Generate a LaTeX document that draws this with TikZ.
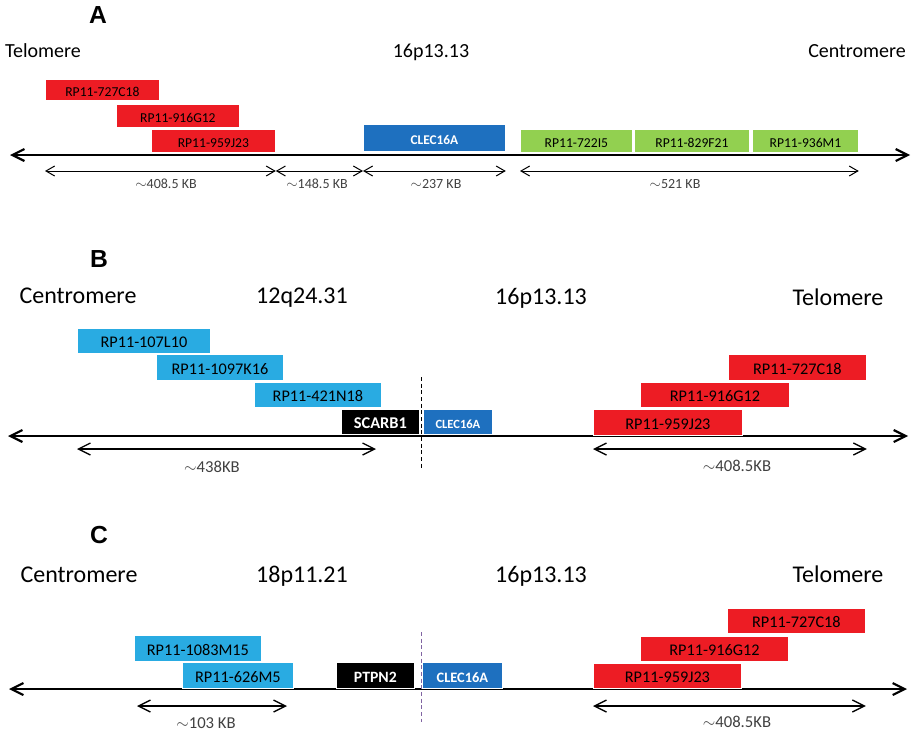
\documentclass[tikz,border=0pt]{standalone}
\usepackage{fontspec}
\setmainfont{Carlito}
\newfontfamily\panelfont{Liberation Sans}
\usepackage{xcolor}
\usepackage{tikz}
\usetikzlibrary{arrows.meta}

\definecolor{bacred}{HTML}{ED1C24}
\definecolor{bacgreen}{HTML}{92D050}
\definecolor{baccyan}{HTML}{29ABE2}
\definecolor{genblue}{HTML}{1E70BF}
\definecolor{cutviolet}{HTML}{8064A2}

\tikzset{
  clone/.style={inner sep=0pt, draw=white, line width=0.6pt,
    text height=1.05em, text depth=0pt},
  gene/.style={clone, text=white, font=\bfseries},
  panel/.style={anchor=base, inner sep=0pt,
    font=\panelfont\bfseries\fontsize{18.5}{22}\selectfont},
  title/.style={anchor=base, inner sep=0pt},
  titleA/.style={title, font=\fontsize{15}{18}\selectfont},
  titleB/.style={title, font=\fontsize{18}{21}\selectfont},
  kb/.style={anchor=base, inner sep=0pt, text=black!75},
  chrom/.style={line width=1.6pt,
    {Straight Barb[length=9pt,width=9pt]}-{Straight Barb[length=9pt,width=9pt]}},
  spanA/.style={line width=0.75pt,
    {Straight Barb[length=6.5pt,width=7.5pt]}-{Straight Barb[length=6.5pt,width=7.5pt]}},
  spanB/.style={line width=1pt,
    {Straight Barb[length=9pt,width=9pt]}-{Straight Barb[length=9pt,width=9pt]}},
  cut/.style={line width=0.75pt, dash pattern=on 3pt off 2pt}
}

% [options]{name}{x1}{y1}{x2}{y2}{text}, pixel coordinates
\newcommand{\bacbox}[7][]{%
  \node[clone, anchor=north west,
    minimum width={(#5-#3)*0.75pt}, minimum height={(#6-#4)*0.75pt}, #1]
    (#2) at (#3,#4) {#7};}

\begin{document}
\begin{tikzpicture}[x=0.75pt,y=-0.75pt]
  \useasboundingbox (0,0) rectangle (912,735);

  % ---- A ----
  \node[panel] (pA) at (98,24) {A};
  \node[titleA] (aTel) at (43,58) {Telomere};
  \node[titleA] (aLoc) at (431,57) {16p13.13};
  \node[titleA] (aCen) at (857,58) {Centromere};

  \coordinate (aAxL) at (10,155);
  \coordinate (aAxR) at (910,155);
  \draw[chrom] (aAxL) -- (aAxR);

  \bacbox[fill=bacred, font=\fontsize{10.2}{12}\selectfont]{aR1}{45}{79}{159}{100}{RP11-727C18}
  \bacbox[fill=bacred, font=\fontsize{10.2}{12}\selectfont]{aR2}{116}{104}{239}{127}{RP11-916G12}
  \bacbox[fill=bacred, font=\fontsize{10.2}{12}\selectfont]{aR3}{151}{129}{275}{152}{RP11-959J23}
  \bacbox[gene, fill=genblue, font=\bfseries\fontsize{10}{12}\selectfont]{aClec}{363}{124}{505}{151}{CLEC16A}
  \bacbox[fill=bacgreen, font=\fontsize{10.2}{12}\selectfont]{aG1}{520}{129}{632}{152}{RP11-722I5}
  \bacbox[fill=bacgreen, font=\fontsize{10.2}{12}\selectfont]{aG2}{634}{129}{749}{152}{RP11-829F21}
  \bacbox[fill=bacgreen, font=\fontsize{10.2}{12}\selectfont]{aG3}{752}{129}{858}{152}{RP11-936M1}

  \coordinate (aSpan) at (0,171);
  \draw[spanA] (aR1.west |- aSpan) -- (aR3.east |- aSpan);
  \draw[spanA] (aR3.east |- aSpan) -- (aClec.west |- aSpan);
  \draw[spanA] (aClec.west |- aSpan) -- (aClec.east |- aSpan);
  \draw[spanA] (aG1.west |- aSpan) -- (aG3.east |- aSpan);
  \node[kb, font=\fontsize{10.5}{12}\selectfont] (aK1) at (166,188) {$\sim$408.5 KB};
  \node[kb, font=\fontsize{10.5}{12}\selectfont] (aK2) at (317,188) {$\sim$148.5 KB};
  \node[kb, font=\fontsize{10.5}{12}\selectfont] (aK3) at (436,188) {$\sim$237 KB};
  \node[kb, font=\fontsize{10.5}{12}\selectfont] (aK4) at (675,188) {$\sim$521 KB};

  % ---- B ----
  \node[panel] (pB) at (99,267) {B};
  \node[titleB] (bCen) at (78,303) {Centromere};
  \node[titleB] (bLoc1) at (302,303) {12q24.31};
  \node[titleB] (bLoc2) at (541,304) {16p13.13};
  \node[titleB] (bTel) at (838,305) {Telomere};

  \coordinate (bAxL) at (8,436);
  \coordinate (bAxR) at (908,436);
  \draw[chrom] (bAxL) -- (bAxR);

  \bacbox[fill=baccyan, font=\fontsize{12.2}{14}\selectfont]{bC1}{77}{328}{210}{353}{RP11-107L10}
  \bacbox[fill=baccyan, font=\fontsize{12.2}{14}\selectfont]{bC2}{156}{354}{283}{380}{RP11-1097K16}
  \bacbox[fill=baccyan, font=\fontsize{12.2}{14}\selectfont]{bC3}{254}{382}{381}{407}{RP11-421N18}
  \bacbox[gene, fill=black, font=\bfseries\fontsize{12.3}{14}\selectfont]{bScarb}{341}{409}{419}{434}{SCARB1}
  \bacbox[gene, fill=genblue, font=\bfseries\fontsize{9.4}{11}\selectfont]{bClec}{423}{409}{492}{434}{CLEC16A}
  \bacbox[fill=bacred, font=\fontsize{12.2}{14}\selectfont]{bR1}{728}{354}{866}{380}{RP11-727C18}
  \bacbox[fill=bacred, font=\fontsize{12.2}{14}\selectfont]{bR2}{640}{382}{789}{407}{RP11-916G12}
  \bacbox[fill=bacred, font=\fontsize{12.2}{14}\selectfont]{bR3}{593}{409}{742}{435}{RP11-959J23}

  \coordinate (bCutT) at (421,377);
  \coordinate (bCutB) at (421,469);
  \draw[cut] (bCutT) -- (bCutB);

  \coordinate (bSpan) at (0,449);
  \coordinate (bSpanE) at (376,449);
  \draw[spanB] (bC1.west |- bSpan) -- (bSpanE);
  \draw[spanB] (bR3.west |- bSpan) -- (bR1.east |- bSpan);
  \node[kb, font=\fontsize{12.5}{15}\selectfont] (bK1) at (212,472) {$\sim$438KB};
  \node[kb, font=\fontsize{12.5}{15}\selectfont] (bK2) at (737,471) {$\sim$408.5KB};

  % ---- C ----
  \node[panel] (pC) at (99,543) {C};
  \node[titleB] (cCen) at (79,582) {Centromere};
  \node[titleB] (cLoc1) at (302,582) {18p11.21};
  \node[titleB] (cLoc2) at (541,582) {16p13.13};
  \node[titleB] (cTel) at (838,582) {Telomere};

  \coordinate (cAxL) at (9,689);
  \coordinate (cAxR) at (907,689);
  \draw[chrom] (cAxL) -- (cAxR);

  \bacbox[fill=baccyan, font=\fontsize{12.2}{14}\selectfont]{cC1}{134}{635}{261}{661}{RP11-1083M15}
  \bacbox[fill=baccyan, font=\fontsize{12.2}{14}\selectfont]{cC2}{182}{662}{293}{688}{RP11-626M5}
  \bacbox[gene, fill=black, font=\bfseries\fontsize{11.8}{14}\selectfont]{cPtpn}{336}{662}{414}{688}{PTPN2}
  \bacbox[gene, fill=genblue, font=\bfseries\fontsize{10.8}{13}\selectfont]{cClec}{422}{662}{502}{688}{CLEC16A}
  \bacbox[fill=bacred, font=\fontsize{12.2}{14}\selectfont]{cR1}{727}{608}{865}{633}{RP11-727C18}
  \bacbox[fill=bacred, font=\fontsize{12.2}{14}\selectfont]{cR2}{640}{636}{788}{661}{RP11-916G12}
  \bacbox[fill=bacred, font=\fontsize{12.2}{14}\selectfont]{cR3}{593}{663}{741}{688}{RP11-959J23}

  \coordinate (cCutT) at (421,632);
  \coordinate (cCutB) at (421,722);
  \draw[cut, cutviolet] (cCutT) -- (cCutB);

  \coordinate (cSpan) at (0,706);
  \coordinate (cSpanL) at (137,706);
  \coordinate (cSpanR) at (287,706);
  \draw[spanB] (cSpanL) -- (cSpanR);
  \draw[spanB] (cR3.west |- cSpan) -- (cR1.east |- cSpan);
  \node[kb, font=\fontsize{12.5}{15}\selectfont] (cK1) at (206,728) {$\sim$103 KB};
  \node[kb, font=\fontsize{12.5}{15}\selectfont] (cK2) at (737,727) {$\sim$408.5KB};
\end{tikzpicture}
\end{document}
